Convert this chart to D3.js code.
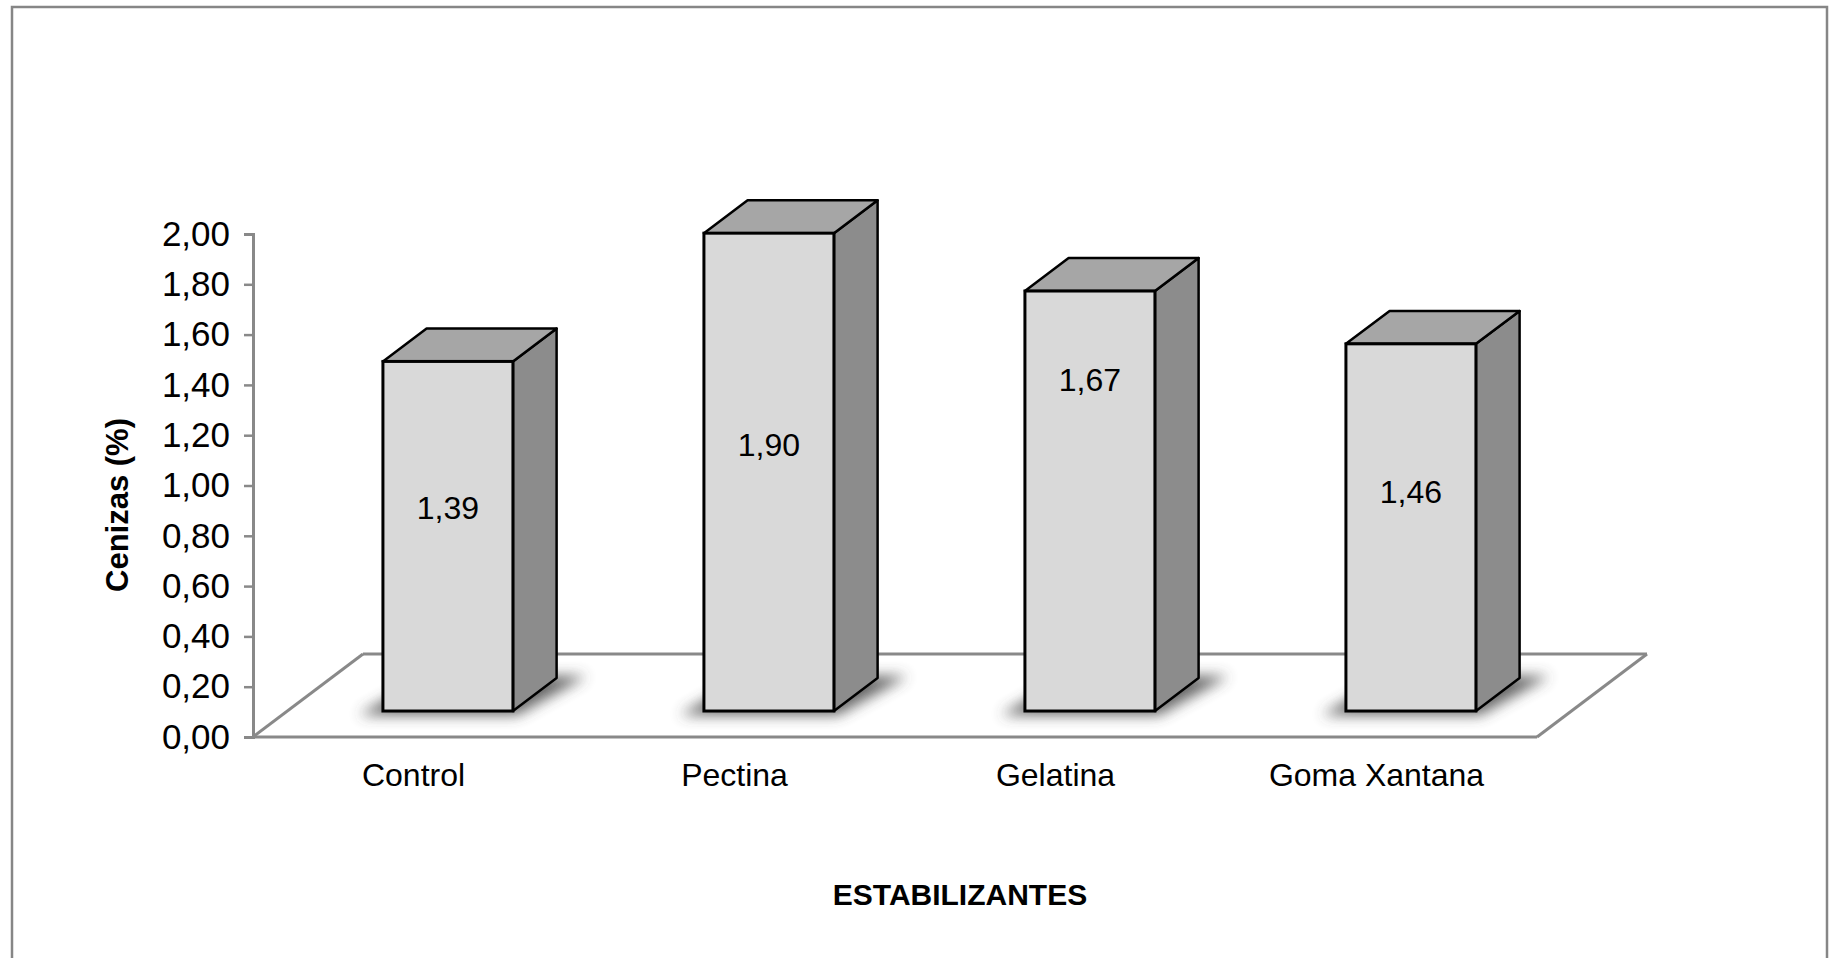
<!DOCTYPE html>
<html>
<head>
<meta charset="utf-8">
<script src="https://cdn.jsdelivr.net/npm/d3@7/dist/d3.min.js"></script>
<style>
  html, body { margin: 0; padding: 0; background: #fff; }
  svg { display: block; font-family: "Liberation Sans", Arial, sans-serif; }
</style>
</head>
<body>
<svg id="chart" width="1832" height="958"></svg>
<script>
// Ash content (%) by stabilizer
const categories = ["Control", "Pectina", "Gelatina", "Goma Xantana"];
const values = [1.39, 1.90, 1.67, 1.46];
const valueLabels = ["1,39", "1,90", "1,67", "1,46"];
const yTicks = [0, 0.2, 0.4, 0.6, 0.8, 1.0, 1.2, 1.4, 1.6, 1.8, 2.0];
const yTitle = "Cenizas (%)";
const xTitle = "ESTABILIZANTES";

// where each value label sits along its bar (fraction of bar height)
const labelLift = [0.58, 0.558, 0.789, 0.597];

const svg = d3.select("#chart");

// chart frame
svg.append("rect")
  .attr("x", 12).attr("y", 7)
  .attr("width", 1815).attr("height", 960)
  .attr("fill", "#fff").attr("stroke", "#868686").attr("stroke-width", 2.5);

// plot geometry: floor front edge and depth vector of the 3D floor
const floorX0 = 253, floorX1 = 1537, floorY = 737;
const depth = { dx: 110, dy: -83 };
const barFront = 0.313, barBack = 0.71;   // bar depth span as fraction of floor depth

const x = d3.scaleBand()
  .domain(categories)
  .range([floorX0, floorX1])
  .paddingInner(0.595)
  .paddingOuter(0.2975);

const y = d3.scaleLinear().domain([0, 2]).range([floorY, 234]);

const defs = svg.append("defs");
defs.append("filter").attr("id", "shadow")
  .attr("x", "-50%").attr("y", "-100%").attr("width", "200%").attr("height", "300%")
  .append("feGaussianBlur").attr("stdDeviation", 7);

// floor (back and side edges first, bars are drawn over them)
const floor = svg.append("g")
  .attr("fill", "none").attr("stroke", "#898989").attr("stroke-width", 3);

floor.append("line")
  .attr("x1", floorX0 + depth.dx).attr("y1", floorY + depth.dy)
  .attr("x2", floorX1 + depth.dx).attr("y2", floorY + depth.dy);
floor.append("line")
  .attr("x1", floorX0).attr("y1", floorY)
  .attr("x2", floorX0 + depth.dx).attr("y2", floorY + depth.dy);
floor.append("line")
  .attr("x1", floorX1).attr("y1", floorY)
  .attr("x2", floorX1 + depth.dx).attr("y2", floorY + depth.dy);
floor.append("line")
  .attr("x1", floorX0).attr("y1", floorY)
  .attr("x2", floorX1).attr("y2", floorY);

// value axis
const yAxis = svg.append("g")
  .attr("transform", `translate(${floorX0},0)`)
  .call(d3.axisLeft(y).tickValues(yTicks).tickSize(9).tickPadding(14)
    .tickFormat(d => d3.format(".2f")(d).replace(".", ",")));
yAxis.select(".domain").attr("stroke", "#898989").attr("stroke-width", 3);
yAxis.selectAll(".tick line").attr("stroke", "#898989").attr("stroke-width", 2.5);
yAxis.selectAll(".tick text")
  .attr("fill", "#000").attr("font-size", 35)
  .attr("font-family", "'Liberation Sans', Arial, sans-serif");

// bars
const fx = barFront * depth.dx, fy = barFront * depth.dy;
const bx = barBack * depth.dx, by = barBack * depth.dy;
const bw = x.bandwidth();

const bars = svg.append("g").selectAll("g.bar")
  .data(categories.map((c, i) => ({ c, v: values[i], label: valueLabels[i], lift: labelLift[i] })))
  .join("g").attr("class", "bar");

const pts = a => a.map(p => p.join(",")).join(" ");

bars.each(function(d) {
  const g = d3.select(this);
  const x0 = x(d.c) + fx, x1 = x0 + bw;
  const yb = y(0) + fy;
  const yt = y(d.v) + fy;
  const ox = bx - fx, oy = by - fy;

  // soft shadow on the floor
  g.append("polygon")
    .attr("points", pts([[x0 - 24, yb + 4], [x1 + 4, yb + 4], [x1 + ox + 30, yb + oy - 2], [x0 + ox, yb + oy - 2]]))
    .attr("fill", "#404040").attr("opacity", 0.8)
    .attr("filter", "url(#shadow)");

  // right side face
  g.append("polygon")
    .attr("points", pts([[x1, yb], [x1 + ox, yb + oy], [x1 + ox, yt + oy], [x1, yt]]))
    .attr("fill", "#8c8c8c").attr("stroke", "#000").attr("stroke-width", 2.5)
    .attr("stroke-linejoin", "round");
  // top face
  g.append("polygon")
    .attr("points", pts([[x0, yt], [x1, yt], [x1 + ox, yt + oy], [x0 + ox, yt + oy]]))
    .attr("fill", "#a6a6a6").attr("stroke", "#000").attr("stroke-width", 2.5)
    .attr("stroke-linejoin", "round");
  // front face
  g.append("rect")
    .attr("x", x0).attr("y", yt).attr("width", bw).attr("height", yb - yt)
    .attr("fill", "#d9d9d9").attr("stroke", "#000").attr("stroke-width", 3);

  // value label
  g.append("text")
    .attr("x", x0 + bw / 2)
    .attr("y", y(d.v * d.lift) + fy)
    .attr("dy", "0.35em")
    .attr("text-anchor", "middle")
    .attr("font-size", 32).attr("fill", "#000")
    .text(d.label);
});

// category labels
svg.append("g").selectAll("text")
  .data(categories)
  .join("text")
  .attr("x", d => x(d) + bw / 2)
  .attr("y", 775)
  .attr("dy", "0.35em")
  .attr("text-anchor", "middle")
  .attr("font-size", 32).attr("fill", "#000")
  .text(d => d);

// axis titles
svg.append("text")
  .attr("transform", "translate(117,505) rotate(-90)")
  .attr("text-anchor", "middle").attr("dy", "0.35em")
  .attr("font-size", 31).attr("font-weight", "bold").attr("fill", "#000")
  .text(yTitle);

svg.append("text")
  .attr("x", 960).attr("y", 894).attr("dy", "0.35em")
  .attr("text-anchor", "middle")
  .attr("font-size", 30).attr("font-weight", "bold").attr("fill", "#000")
  .text(xTitle);
</script>
</body>
</html>
